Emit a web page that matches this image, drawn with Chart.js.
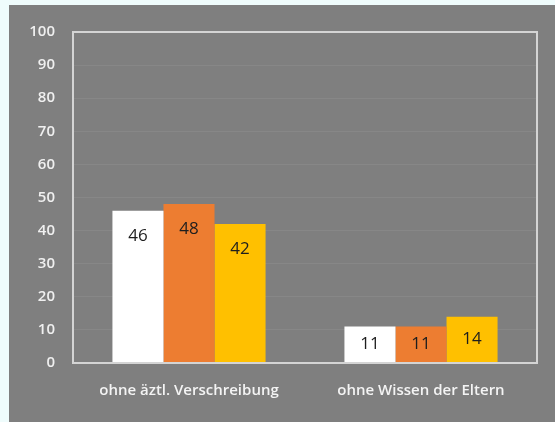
<!DOCTYPE html>
<html lang="de">
<head>
<meta charset="UTF-8">
<title>Balkendiagramm</title>
<script src="https://cdn.jsdelivr.net/npm/chart.js@4.4.0/dist/chart.umd.min.js"></script>
<style>
    body { margin: 0; background: #effcfc; width: 555px; height: 422px; overflow: hidden; }
    .panel { position: absolute; left: 9px; top: 5px; width: 546px; height: 417px; background: #7f7f7f; }
</style>
</head>
<body>
<div class="panel"><canvas id="chart" width="546" height="417"></canvas></div>
<script>
// data
const categories = ['ohne äztl. Verschreibung', 'ohne Wissen der Eltern'];
const seriesA = [46, 11];
const seriesB = [48, 11];
const seriesC = [42, 14];
const yTicks = [0, 10, 20, 30, 40, 50, 60, 70, 80, 90, 100];

// frame round the plot area
const frame = {
    id: 'frame',
    afterDraw(chart) {
        const a = chart.chartArea, c = chart.ctx;
        c.save();
        c.strokeStyle = '#d4d4d4';
        c.lineWidth = 2;
        c.strokeRect(a.left, a.top, a.right - a.left, a.bottom - a.top);
        c.restore();
    }
};

// value labels inside the bars
const valueLabels = {
    id: 'valueLabels',
    afterDatasetsDraw(chart) {
        const c = chart.ctx;
        c.save();
        c.font = '17px "Open Sans", sans-serif';
        c.fillStyle = '#1e1e1e';
        c.textAlign = 'center';
        c.textBaseline = 'middle';
        chart.data.datasets.forEach((ds, i) => {
            chart.getDatasetMeta(i).data.forEach((bar, j) => {
                const y = Math.min(bar.y + 25, (bar.y + bar.base) / 2);
                c.fillText(ds.data[j], bar.x, y);
            });
        });
        c.restore();
    }
};

new Chart(document.getElementById('chart'), {
    type: 'bar',
    data: {
        labels: categories,
        datasets: [
            { data: seriesA, backgroundColor: '#ffffff' },
            { data: seriesB, backgroundColor: '#ed7d31' },
            { data: seriesC, backgroundColor: '#ffc000' }
        ]
    },
    options: {
        responsive: false,
        animation: false,
        events: [],
        layout: { padding: { top: 18, right: 18, left: 0, bottom: 0 } },
        datasets: { bar: { categoryPercentage: 0.66, barPercentage: 1.0 } },
        plugins: { legend: { display: false }, tooltip: { enabled: false } },
        scales: {
            x: {
                grid: { display: false },
                border: { display: false },
                ticks: { color: '#f4f4f4', font: { family: 'Open Sans', size: 15, weight: '600' }, padding: 11 },
                afterFit(s) { s.height = 59; }
            },
            y: {
                min: 0, max: 100,
                afterBuildTicks(s) { s.ticks = yTicks.map(v => ({ value: v })); },
                grid: { color: '#878787', lineWidth: 1, drawTicks: false },
                border: { display: false },
                ticks: { color: '#f0f0f0', font: { family: 'Open Sans', size: 15, weight: '600' }, padding: 18 },
                afterFit(s) { s.width = 64; }
            }
        }
    },
    plugins: [frame, valueLabels]
});
</script>
</body>
</html>
